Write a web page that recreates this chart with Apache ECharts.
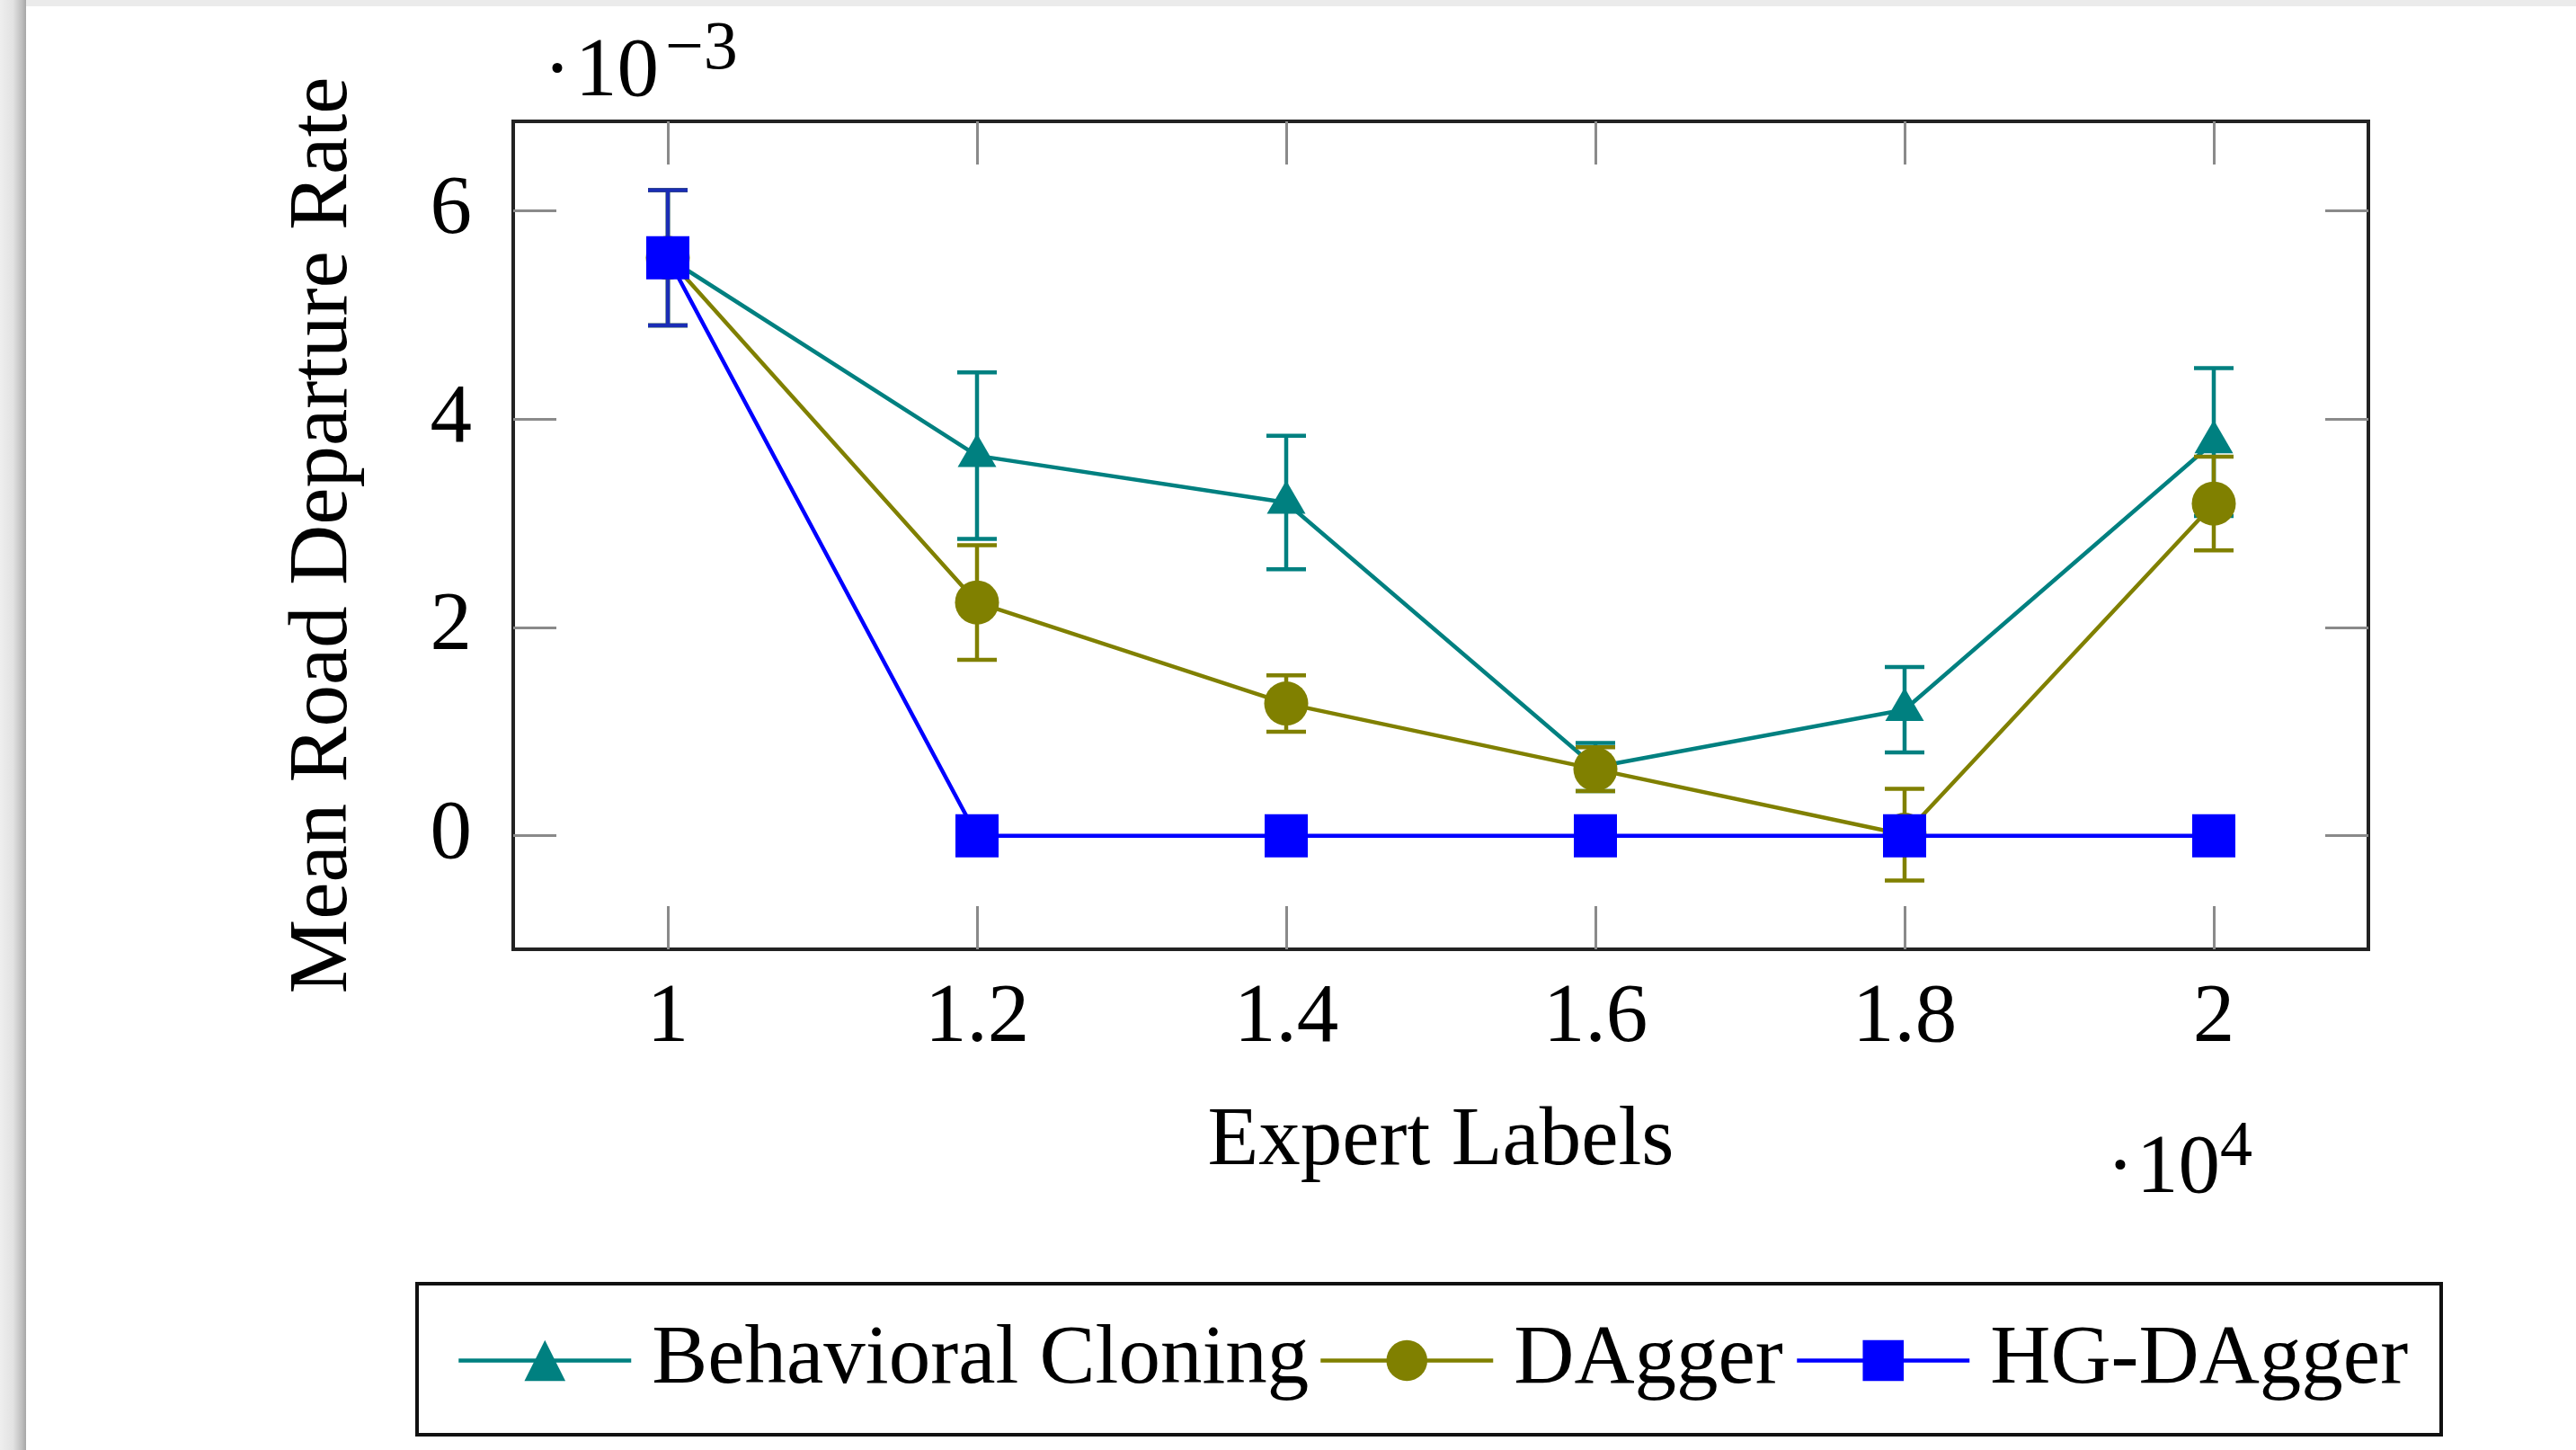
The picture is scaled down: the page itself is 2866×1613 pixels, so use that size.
<!DOCTYPE html>
<html>
<head>
<meta charset="utf-8">
<script src="https://cdn.jsdelivr.net/npm/echarts@6/dist/echarts.min.js"></script>
<style>
html,body{margin:0;padding:0;background:#fff;}
#chart{width:2866px;height:1613px;}
</style>
</head>
<body>
<div id="chart"></div>
<script>
// ---- data (x in units of 10^4 expert labels, y in units of 10^-3) ----
const expertLabels = [1.0, 1.2, 1.4, 1.6, 1.8, 2.0];
const bcMean  = [5.55, 3.65, 3.20, 0.66, 1.21, 3.78];
const bcErr   = [0.65, 0.80, 0.64, 0.23, 0.41, 0.71];
const dagMean = [5.55, 2.24, 1.27, 0.64, 0.01, 3.19];
const dagErr  = [0.65, 0.55, 0.27, 0.21, 0.44, 0.45];
const hgMean  = [5.55, 0, 0, 0, 0, 0];
const hgErr   = [0.65, 0, 0, 0, 0, 0];
const xTicks = [1, 1.2, 1.4, 1.6, 1.8, 2];
const xTickLabels = ['1', '1.2', '1.4', '1.6', '1.8', '2'];
const yTicks = [0, 2, 4, 6];
const yTickLabels = ['0', '2', '4', '6'];
const seriesNames = ['Behavioral Cloning', 'DAgger', 'HG-DAgger'];

const FONT = '"Liberation Serif", "Times New Roman", serif';
const FS = 93;
const TEAL = '#008080', OLIVE = '#808000', BLUE = '#0000ff';
const LW = 4.5;
const COLORS = [TEAL, OLIVE, BLUE];

const chart = echarts.init(document.getElementById('chart'));

function pairs(means) { return expertLabels.map((x, i) => [x, means[i]]); }

function errSeries(name, means, errs, color, z) {
  return {
    type: 'custom', name: name, z: z, silent: true,
    data: expertLabels.map((x, i) => [x, means[i] - errs[i], means[i] + errs[i]]),
    encode: { x: 0, y: [1, 2] },
    renderItem: function (params, api) {
      const x = api.value(0), lo = api.value(1), hi = api.value(2);
      if (hi - lo < 1e-9) return null;
      const p1 = api.coord([x, lo]), p2 = api.coord([x, hi]);
      const hw = 22, st = { stroke: color, lineWidth: LW };
      return {
        type: 'group', children: [
          { type: 'line', shape: { x1: p1[0], y1: p1[1], x2: p2[0], y2: p2[1] }, style: st },
          { type: 'line', shape: { x1: p1[0] - hw, y1: p1[1], x2: p1[0] + hw, y2: p1[1] }, style: st },
          { type: 'line', shape: { x1: p2[0] - hw, y1: p2[1], x2: p2[0] + hw, y2: p2[1] }, style: st }
        ]
      };
    }
  };
}

function lineSeries(name, means, color, symbol, size, offset, z) {
  return {
    type: 'line', name: name, z: z, data: pairs(means),
    symbol: symbol, symbolSize: size, symbolOffset: offset, showSymbol: true,
    lineStyle: { color: color, width: LW },
    itemStyle: { color: color },
    emphasis: { disabled: true }
  };
}

function legendAt(idx, left) {
  return {
    data: [seriesNames[idx]], left: left, top: 1462, orient: 'horizontal',
    itemWidth: 192, itemHeight: 57, selectedMode: false,
    lineStyle: { width: LW, color: COLORS[idx] },
    textStyle: { fontFamily: FONT, fontSize: FS, color: '#000', padding: [0, 0, 0, 18] }
  };
}

const axisText = { fontFamily: FONT, fontSize: FS, color: '#000' };
const tickStyle = { show: true, inside: true, length: 48, lineStyle: { color: '#8a8a8a', width: 3 } };
const noLine = { show: false, onZero: false };

const option = {
  backgroundColor: '#ffffff',
  animation: false,
  grid: { left: 571, top: 135, width: 2064, height: 921, show: true, borderColor: '#222', borderWidth: 4, containLabel: false },
  xAxis: [
    {
      type: 'value', min: 0.9, max: 2.1, position: 'bottom',
      name: 'Expert Labels', nameLocation: 'middle', nameGap: 168, nameTextStyle: axisText,
      axisLine: noLine, splitLine: { show: false },
      axisTick: Object.assign({ customValues: xTicks }, tickStyle),
      axisLabel: Object.assign({
        customValues: xTicks, margin: 31,
        formatter: v => xTickLabels[xTicks.findIndex(t => Math.abs(t - v) < 1e-6)]
      }, axisText)
    },
    {
      type: 'value', min: 0.9, max: 2.1, position: 'top',
      axisLine: noLine, splitLine: { show: false },
      axisTick: Object.assign({ customValues: xTicks }, tickStyle),
      axisLabel: { show: false }
    }
  ],
  yAxis: [
    {
      type: 'value', min: -1.09, max: 6.86, position: 'left',
      name: 'Mean Road Departure Rate', nameLocation: 'middle', nameRotate: 90, nameGap: 164,
      nameTextStyle: axisText,
      axisLine: noLine, splitLine: { show: false },
      axisTick: Object.assign({ customValues: yTicks }, tickStyle),
      axisLabel: Object.assign({
        customValues: yTicks, margin: 46,
        formatter: v => yTickLabels[yTicks.findIndex(t => Math.abs(t - v) < 1e-6)]
      }, axisText)
    },
    {
      type: 'value', min: -1.09, max: 6.86, position: 'right',
      axisLine: noLine, splitLine: { show: false },
      axisTick: Object.assign({ customValues: yTicks }, tickStyle),
      axisLabel: { show: false }
    }
  ],
  legend: [
    legendAt(0, 503),
    legendAt(1, 1462),
    legendAt(2, 1992)
  ],
  series: [
    errSeries('bc-err', bcMean, bcErr, TEAL, 2),
    lineSeries(seriesNames[0], bcMean, TEAL, 'triangle', [43, 37], [0, -6], 3),
    errSeries('dag-err', dagMean, dagErr, OLIVE, 4),
    lineSeries(seriesNames[1], dagMean, OLIVE, 'circle', 49, [0, 0], 5),
    errSeries('hg-err', hgMean, hgErr, '#1a2db5', 6),
    lineSeries(seriesNames[2], hgMean, BLUE, 'rect', 48, [0, 0], 7)
  ],
  graphic: [
    { type: 'rect', z: 0, shape: { x: 0, y: 0, width: 2866, height: 7 }, style: { fill: '#ebebeb' } },
    { type: 'rect', z: 0, shape: { x: 0, y: 0, width: 29, height: 1613 },
      style: { fill: new echarts.graphic.LinearGradient(0, 0, 1, 0, [
        { offset: 0, color: '#eeeeee' }, { offset: 0.5, color: '#e2e2e2' },
        { offset: 0.85, color: '#bdbdbd' }, { offset: 1, color: '#a6a6a6' }]) } },
    { type: 'rect', z: 1, shape: { x: 464, y: 1428, width: 2252, height: 168 },
      style: { fill: 'none', stroke: '#111', lineWidth: 4 } },
    { type: 'text', z: 1, style: { text: '·', x: 620, y: 82, font: FS + 'px ' + FONT, fill: '#000', align: 'center', verticalAlign: 'middle' } },
    { type: 'text', z: 1, style: { text: '10', x: 640, y: 82, font: FS + 'px ' + FONT, fill: '#000', align: 'left', verticalAlign: 'middle' } },
    { type: 'text', z: 1, style: { text: '−3', x: 740, y: 56, font: '76px ' + FONT, fill: '#000', align: 'left', verticalAlign: 'middle' } },
    { type: 'text', z: 1, style: { text: '·', x: 2359, y: 1302, font: FS + 'px ' + FONT, fill: '#000', align: 'center', verticalAlign: 'middle' } },
    { type: 'text', z: 1, style: { text: '10', x: 2377, y: 1302, font: FS + 'px ' + FONT, fill: '#000', align: 'left', verticalAlign: 'middle' } },
    { type: 'text', z: 1, style: { text: '4', x: 2470, y: 1277, font: '72px ' + FONT, fill: '#000', align: 'left', verticalAlign: 'middle' } }
  ]
};
chart.setOption(option);
</script>
</body>
</html>
